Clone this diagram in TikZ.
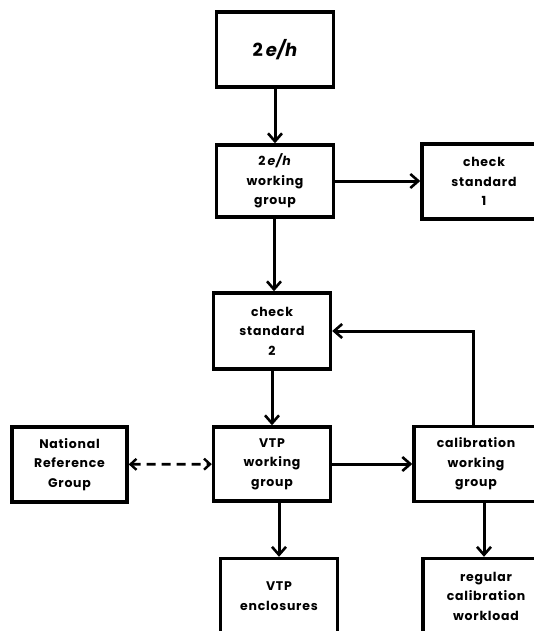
\documentclass[tikz,border=0pt]{standalone}
\usepackage{fontspec}
\setmainfont{Poppins}
\usetikzlibrary{arrows.meta}
\tikzset{
  blk/.style={draw, line width=3.4pt, minimum width=117pt, minimum height=75pt,
    align=center, inner sep=0pt,
    font=\fontsize{12.5}{19.5}\selectfont\bfseries\addfontfeature{LetterSpace=6}},
  arr/.style={line width=3pt, -{Straight Barb[length=8pt,width=14pt,line width=2.6pt]}},
  darr/.style={line width=2.8pt, dash pattern=on 9pt off 6pt,
    {Straight Barb[length=6pt,width=11pt,line width=2.4pt]}-{Straight Barb[length=6pt,width=11pt,line width=2.4pt]}}
}
\begin{document}
\begin{tikzpicture}[x=1pt,y=-1pt]
\useasboundingbox (0,0) rectangle (534,631);
\clip (0,0) rectangle (534,631);
\node[blk, font=\fontsize{18}{20}\selectfont\bfseries] (top) at (275,49.5) {2\,\textit{e/h}};
\node[blk, minimum height=72pt] (wg) at (275,181) {2\,\textit{e/h}\\working\\group};
\node[blk, minimum width=124pt] (cs1) at (484,181.5) {check\\standard\\1};
\node[blk, minimum height=76pt] (cs2) at (272,331) {check\\standard\\2};
\node[blk, minimum width=115pt] (nrg) at (69.5,464.5) {National\\Reference\\Group};
\node[blk, minimum height=74pt] (vtp) at (272,464) {VTP\\working\\group};
\node[blk, minimum width=124pt] (cal) at (476,464) {calibration\\working\\group};
\node[blk] (enc) at (279,596) {VTP\\enclosures};
\node[blk, minimum width=126pt] (reg) at (486,596) {regular\\calibration\\workload};
\coordinate (c1) at (274,0);
\coordinate (cn) at (473,0);
\coordinate (cr) at (484,0);
\draw[arr] (top) -- (wg);
\draw[arr] (wg) -- (cs1.west |- wg.east);
\draw[arr] (c1 |- wg.south) -- (c1 |- cs2.north);
\draw[arr] (cs2) -- (vtp);
\draw[arr] (cn |- cal.north) -- (cn |- cs2.east) -- (cs2.east);
\draw[darr] (nrg) -- (vtp);
\draw[arr] (vtp) -- (cal);
\draw[arr] (enc.north |- vtp.south) -- (enc.north);
\draw[arr] (cr |- cal.south) -- (cr |- reg.north);
\end{tikzpicture}
\end{document}
